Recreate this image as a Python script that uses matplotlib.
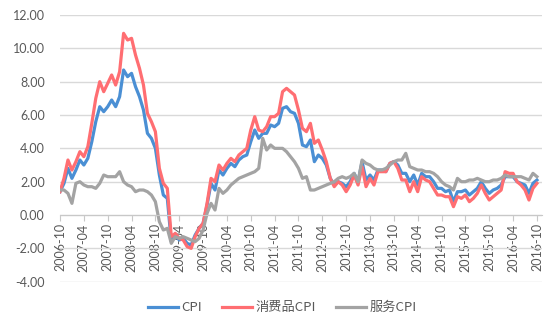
import matplotlib
matplotlib.use('Agg')
import matplotlib.pyplot as plt
from matplotlib.ticker import FormatStrFormatter
import pandas as pd

# monthly categories 2006-10 .. 2016-10
months = pd.period_range('2006-10', '2016-10', freq='M').strftime('%Y-%m').tolist()

cpi = [1.4, 1.9, 2.8,
       2.2, 2.7, 3.3, 3.0, 3.4, 4.4, 5.6, 6.5, 6.2, 6.5, 6.9, 6.5,
       7.1, 8.7, 8.3, 8.5, 7.7, 7.1, 6.3, 4.9, 4.6, 4.0, 2.4, 1.2,
       1.0, -1.6, -1.2, -1.5, -1.4, -1.7, -1.8, -1.2, -0.8, -0.5, 0.6, 1.9,
       1.5, 2.7, 2.4, 2.8, 3.1, 2.9, 3.3, 3.5, 3.6, 4.4, 5.1, 4.6,
       4.9, 4.9, 5.4, 5.3, 5.5, 6.4, 6.5, 6.2, 6.1, 5.5, 4.2, 4.1,
       4.5, 3.2, 3.6, 3.4, 3.0, 2.2, 1.8, 2.0, 1.9, 1.7, 2.0, 2.5,
       2.0, 3.2, 2.1, 2.4, 2.1, 2.7, 2.7, 2.6, 3.1, 3.2, 3.0, 2.5,
       2.5, 2.0, 2.4, 1.8, 2.5, 2.3, 2.3, 2.0, 1.6, 1.6, 1.4, 1.5,
       0.8, 1.4, 1.4, 1.5, 1.2, 1.4, 1.6, 2.0, 1.6, 1.3, 1.5, 1.6,
       1.8, 2.3, 2.3, 2.3, 2.0, 1.9, 1.8, 1.3, 1.9, 2.1]

goods_cpi = [1.4, 2.2, 3.3,
             2.7, 3.2, 3.8, 3.5, 4.1, 5.5, 7.0, 8.0, 7.4, 7.9, 8.4, 7.8,
             8.6, 10.9, 10.5, 10.6, 9.6, 8.8, 7.8, 6.1, 5.6, 5.0, 2.8, 1.9,
             1.6, -1.3, -1.1, -1.4, -1.5, -1.9, -2.0, -1.3, -0.8, -0.5, 0.7, 2.2,
             2.0, 3.0, 2.7, 3.1, 3.4, 3.2, 3.6, 3.8, 4.0, 5.1, 5.9, 5.1,
             5.0, 5.3, 5.9, 5.9, 6.1, 7.4, 7.6, 7.4, 7.2, 6.3, 5.2, 5.0,
             5.5, 4.3, 4.5, 3.9, 3.2, 2.2, 1.7, 2.0, 1.8, 1.4, 1.8, 2.4,
             1.8, 2.9, 1.7, 2.2, 1.8, 2.6, 2.6, 2.6, 3.1, 3.2, 2.8, 2.1,
             2.1, 1.4, 2.0, 1.4, 2.3, 2.1, 2.0, 1.6, 1.2, 1.2, 1.1, 1.1,
             0.5, 1.1, 1.0, 1.2, 0.8, 1.0, 1.3, 1.8, 1.3, 0.9, 1.1, 1.3,
             1.5, 2.6, 2.5, 2.5, 2.0, 1.8, 1.5, 0.9, 1.6, 1.9]

service_cpi = [1.5, 1.5, 1.3,
               0.7, 1.9, 2.0, 1.8, 1.7, 1.7, 1.6, 1.9, 2.4, 2.3, 2.3, 2.3,
               2.6, 2.0, 1.8, 1.7, 1.4, 1.5, 1.5, 1.4, 1.2, 0.8, -0.4, -0.9,
               -0.8, -1.7, -1.3, -1.4, -1.3, -1.4, -1.5, -1.6, -1.4, -0.9, 0.1, 0.7,
               0.3, 1.6, 1.3, 1.5, 1.8, 2.0, 2.2, 2.3, 2.4, 2.5, 2.6, 2.8,
               4.6, 3.9, 4.2, 4.0, 4.0, 4.0, 3.8, 3.5, 3.2, 2.8, 2.2, 2.3,
               1.5, 1.5, 1.6, 1.7, 1.8, 1.9, 2.0, 2.2, 2.3, 2.2, 2.3, 2.5,
               2.0, 3.3, 3.1, 3.0, 2.8, 2.7, 2.7, 2.8, 3.0, 3.2, 3.3, 3.3,
               3.7, 2.9, 2.8, 2.7, 2.7, 2.6, 2.6, 2.5, 2.3, 2.0, 1.8, 1.7,
               1.5, 2.2, 2.0, 2.0, 2.1, 2.1, 2.2, 2.1, 2.0, 2.0, 2.1, 2.1,
               2.2, 2.4, 2.3, 2.3, 2.3, 2.3, 2.2, 2.1, 2.5, 2.3]

plt.rcParams['font.family'] = ['Lato', 'Noto Sans CJK SC', 'DejaVu Sans']

fig = plt.figure(figsize=(5.48, 3.24), dpi=100)
ax = fig.add_axes([0.1095, 0.1306, 0.879, 0.8231])

x = range(len(months))
ax.plot(x, cpi, color='#4A8FD4', lw=2.3, label='CPI')
ax.plot(x, goods_cpi, color='#FF6E72', lw=2.3, label='消费品CPI')
ax.plot(x, service_cpi, color='#A3A3A3', lw=2.3, label='服务CPI')

ax.set_xlim(0, 121.2)
ax.set_ylim(-4, 12)
ax.set_yticks(range(-4, 13, 2))
ax.yaxis.set_major_formatter(FormatStrFormatter('%.2f'))
ax.set_xticks(range(0, len(months), 6))
ax.set_xticklabels(months[::6])

ax.spines['bottom'].set_position(('data', 0))
ax.spines['bottom'].set_color('#c8c8c8')
for s in ['top', 'right', 'left']:
    ax.spines[s].set_visible(False)
ax.grid(axis='y', color='#d9d9d9', lw=1)
ax.set_axisbelow(True)
ax.tick_params(axis='y', length=0, labelcolor='#595959', labelsize=9, pad=11)
ax.tick_params(axis='x', length=4, color='#c8c8c8', labelcolor='#595959',
               labelsize=9, pad=2, labelrotation=90)

fig.legend(loc='center', bbox_to_anchor=(0.515, 0.05), ncol=3, frameon=False,
           handlelength=2.3, handletextpad=0.25, columnspacing=1.5,
           prop={'family': ['Noto Sans CJK SC', 'DejaVu Sans'], 'size': 9.5},
           labelcolor='#595959')

fig.savefig('out.png', dpi=100)
